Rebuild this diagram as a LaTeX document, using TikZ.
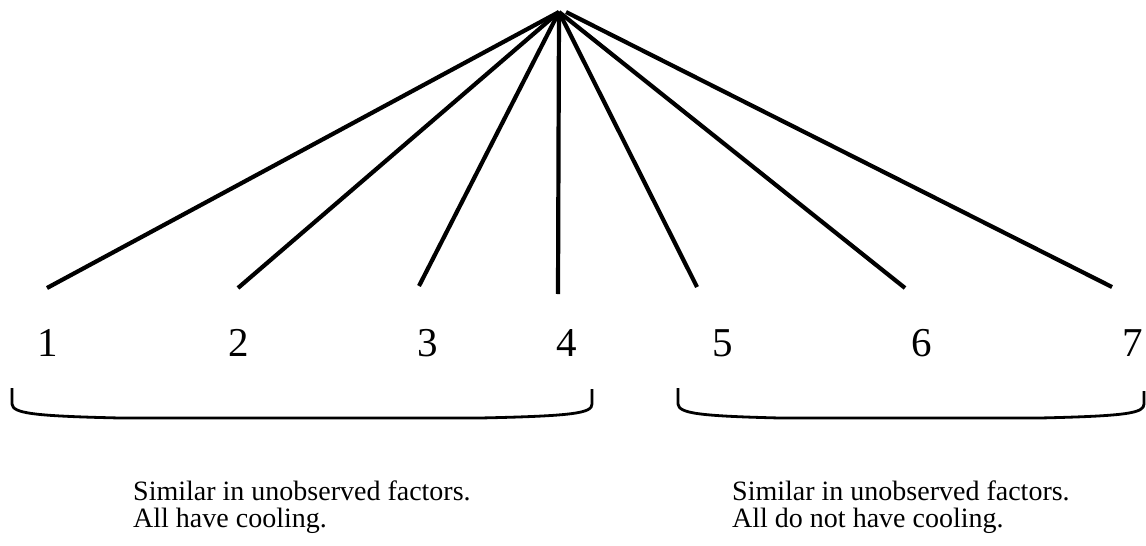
\documentclass[tikz,border=0pt]{standalone}
\usepackage{fontspec}
\setmainfont{Liberation Serif}
\begin{document}
\begin{tikzpicture}[x=1pt,y=-1pt,
  spoke/.style={line width=4.2pt},
  brace/.style={line width=2.8pt, line join=round},
  num/.style={font=\fontsize{41}{44}\selectfont, inner sep=0pt, anchor=base},
  note/.style={font=\fontsize{28}{27}\selectfont, align=left, anchor=north west, inner sep=0pt}]
\useasboundingbox (0,0) rectangle (1146,546);

% common top point of the fan
\coordinate (top) at (559,12);
\coordinate (topR) at (566,12);

% lower ends of the spokes
\coordinate (e1) at (47,288);
\coordinate (e2) at (238,288);
\coordinate (e3) at (419,286);
\coordinate (e4) at (558,294);
\coordinate (e5) at (697,287);
\coordinate (e6) at (905,288);
\coordinate (e7) at (1112,287);

\foreach \i in {1,...,6} \draw[spoke] (top) -- (e\i);
\draw[spoke] (topR) -- (e7);

% numbered units
\node[num] (n1) at (48,356) {1};
\node[num] (n2) at (239,356) {2};
\node[num] (n3) at (428,356) {3};
\node[num] (n4) at (567,356) {4};
\node[num] (n5) at (723,356) {5};
\node[num] (n6) at (922,356) {6};
\node[num] (n7) at (1133,356) {7};

% group braces
\draw[brace] (12,388) -- (12,404) .. controls (13,413) and (30,416) .. (120,418)
  -- (480,418) .. controls (575,416) and (592,413) .. (592,404) -- (592,389);
\draw[brace] (678,388) -- (678,404) .. controls (679,413) and (696,416) .. (780,418)
  -- (1040,418) .. controls (1128,416) and (1144,413) .. (1144,404) -- (1144,391);

% group descriptions
\node[note] (t1) at (133,481) {Similar in unobserved factors.\\All have cooling.};
\node[note] (t2) at (732,481) {Similar in unobserved factors.\\All do not have cooling.};
\end{tikzpicture}
\end{document}
